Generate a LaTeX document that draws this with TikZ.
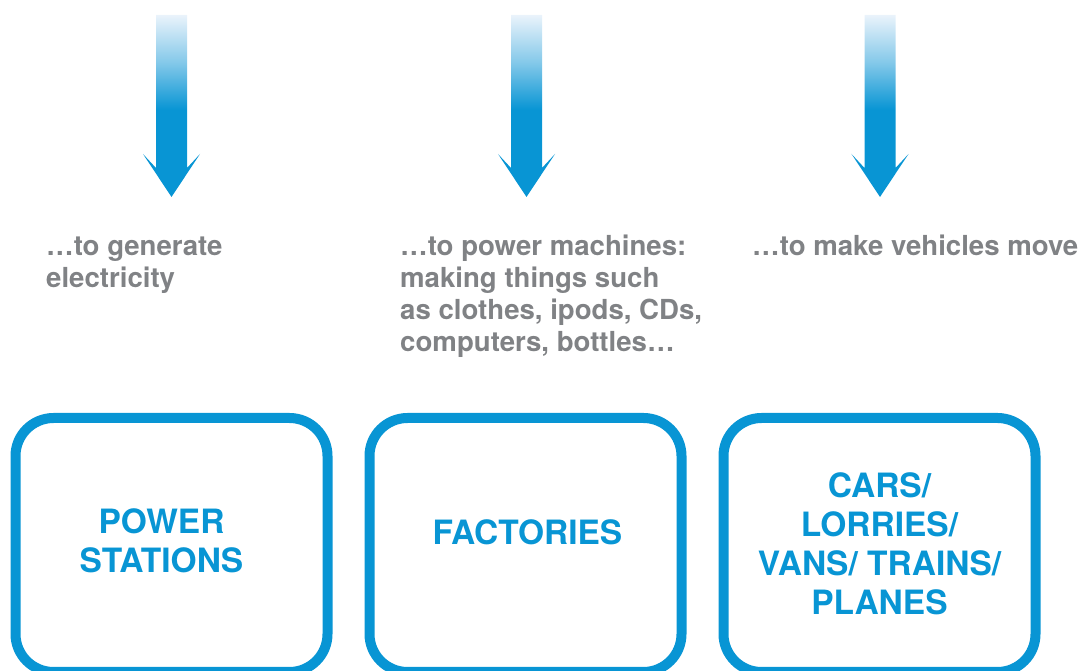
\documentclass[tikz,border=0pt]{standalone}
\usepackage{fontspec}
\setmainfont{TeX Gyre Heros}
\usetikzlibrary{positioning}
\definecolor{flowblue}{HTML}{0895D4}
\definecolor{flowtop}{HTML}{EAF3FB}
\definecolor{usegray}{HTML}{808285}
\pgfdeclareverticalshading{fadeblue}{100bp}{color(0bp)=(flowblue); color(25bp)=(flowblue); color(49bp)=(flowblue); color(62bp)=(flowblue!45!flowtop); color(75bp)=(flowtop); color(100bp)=(flowtop)}
\tikzset{
  usebox/.style={draw=flowblue, line width=10pt, rounded corners=38pt, minimum width=312pt, minimum height=254pt},
  boxlabel/.style={text=flowblue, align=center, font=\fontsize{33.5}{39}\selectfont\bfseries},
  usetext/.style={text=usegray, align=left, anchor=base west, inner sep=0pt, font=\fontsize{27.6}{32}\selectfont\bfseries},
}
\newcommand{\flowarrow}[1]{%
  \shade[shading=fadeblue] (#1-15.5,656) -- (#1+15.5,656) -- (#1+15.5,503) -- (#1+28.5,517)
    -- (#1,474) -- (#1-28.5,517) -- (#1-15.5,503) -- cycle;}

\begin{document}
\begin{tikzpicture}[x=1pt, y=1pt]
\useasboundingbox (0,0) rectangle (1081,671);

% Arrows
\foreach \ax in {171.5, 526.5, 880} {\flowarrow{\ax}}

% Define nodes (base = last line)
\node[usetext] (gen)  at (46,383)  {\dots to generate\\electricity};
\node[usetext] (mach) at (400,319) {\dots to power machines:\\making things such\\as clothes, ipods, CDs,\\computers, bottles\dots};
\node[usetext] (move) at (752,415) {\dots to make vehicles move};

\node[usebox]                        (power)   at (171.5,126) {};
\node[usebox, right = 32pt of power] (factory) {};
\node[usebox, right = 32pt of factory] (vehicle) {};

\node[boxlabel, xshift=-10pt, yshift=4.5pt] (powerl)   at (power.center)   {POWER\\STATIONS};
\node[boxlabel, xshift=2pt, yshift=12.5pt]  (factoryl) at (factory.center) {FACTORIES};
\node[boxlabel, yshift=1pt]                 (vehiclel) at (vehicle.center) {CARS/\\LORRIES/\\VANS/ TRAINS/\\PLANES};
\end{tikzpicture}
\end{document}
